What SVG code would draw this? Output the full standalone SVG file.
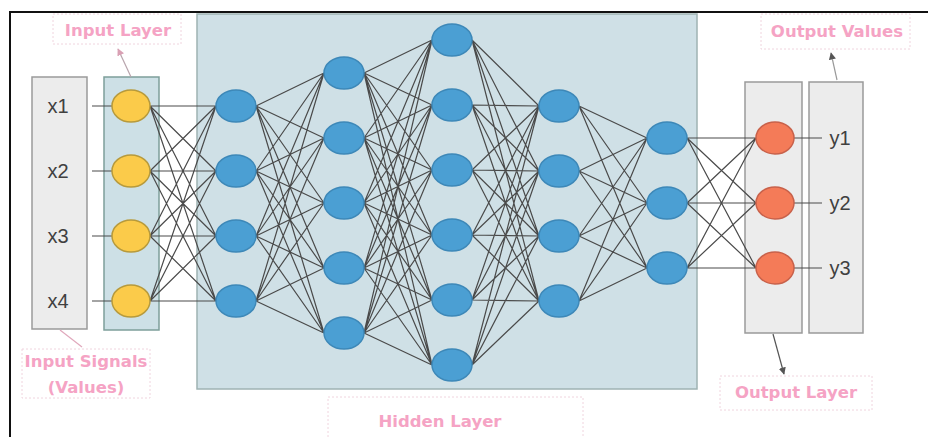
<svg xmlns="http://www.w3.org/2000/svg" width="928" height="437" viewBox="0 0 928 437">
<defs>
<style>
.lbl{font-family:"DejaVu Sans",Verdana,sans-serif;font-weight:bold;font-size:16.5px;fill:#f5a3c4;text-anchor:middle}
.val{font-family:"Liberation Sans",Arial,sans-serif;font-size:20px;fill:#404040;text-anchor:middle;dominant-baseline:central}
.lbox{fill:#fff;stroke:#f0d4de;stroke-width:1;stroke-dasharray:2 2}
.gbox{fill:#ececec;stroke:#9a9a9a;stroke-width:1.5}
.blue{fill:#4b9fd3;stroke:#3d88b8;stroke-width:1.5}
.yel{fill:#fbcb4a;stroke:#b79a3c;stroke-width:1.5}
.red{fill:#f47b58;stroke:#c8614a;stroke-width:1.5}
.c{fill:none;stroke:#4a4a4a;stroke-width:1.2}
</style>
<marker id="ah" viewBox="0 0 10 10" refX="9" refY="5" markerWidth="6" markerHeight="6" orient="auto"><path d="M0 0L10 5L0 10z" fill="#555"/></marker>
<marker id="ahp" viewBox="0 0 10 10" refX="9" refY="5" markerWidth="6" markerHeight="6" orient="auto"><path d="M0 0L10 5L0 10z" fill="#d9a0b4"/></marker>
</defs>
<rect width="928" height="437" fill="#fff"/>
<path d="M10 437V12H928" fill="none" stroke="#111" stroke-width="2"/>

<g id="hidden-layer-box"><rect x="197" y="14" width="500" height="375" fill="#cfe0e6" stroke="#9fb3b3" stroke-width="1.5"/></g>
<g id="input-signals-box"><rect class="gbox" x="32" y="77" width="55" height="252"/></g>
<g id="input-layer-box"><rect x="104" y="77" width="55" height="253" fill="#cde0e6" stroke="#7d9f9a" stroke-width="1.5"/></g>
<g id="output-layer-box"><rect class="gbox" x="745" y="82" width="57" height="251"/></g>
<g id="output-values-box"><rect class="gbox" x="809" y="82" width="54" height="251"/></g>

<g id="connectors">
<path class="c" d="M92 106H112M92 171H112M92 236H112M92 301H112"/>
<path class="c" d="M150 106L216 106M150 106L216 171M150 106L216 236M150 106L216 301M150 171L216 106M150 171L216 171M150 171L216 236M150 171L216 301M150 236L216 106M150 236L216 171M150 236L216 236M150 236L216 301M150 301L216 106M150 301L216 171M150 301L216 236M150 301L216 301"/>
<path class="c" d="M256 106L324 73M256 106L324 138M256 106L324 203M256 106L324 268M256 106L324 333M256 171L324 73M256 171L324 138M256 171L324 203M256 171L324 268M256 171L324 333M256 236L324 73M256 236L324 138M256 236L324 203M256 236L324 268M256 236L324 333M256 301L324 73M256 301L324 138M256 301L324 203M256 301L324 268M256 301L324 333"/>
<path class="c" d="M364 73L432 40M364 73L432 105M364 73L432 170M364 73L432 235M364 73L432 300M364 73L432 365M364 138L432 40M364 138L432 105M364 138L432 170M364 138L432 235M364 138L432 300M364 138L432 365M364 203L432 40M364 203L432 105M364 203L432 170M364 203L432 235M364 203L432 300M364 203L432 365M364 268L432 40M364 268L432 105M364 268L432 170M364 268L432 235M364 268L432 300M364 268L432 365M364 333L432 40M364 333L432 105M364 333L432 170M364 333L432 235M364 333L432 300M364 333L432 365"/>
<path class="c" d="M472 40L539 106M472 40L539 171M472 40L539 236M472 40L539 301M472 105L539 106M472 105L539 171M472 105L539 236M472 105L539 301M472 170L539 106M472 170L539 171M472 170L539 236M472 170L539 301M472 235L539 106M472 235L539 171M472 235L539 236M472 235L539 301M472 300L539 106M472 300L539 171M472 300L539 236M472 300L539 301M472 365L539 106M472 365L539 171M472 365L539 236M472 365L539 301"/>
<path class="c" d="M579 106L647 138M579 106L647 203M579 106L647 268M579 171L647 138M579 171L647 203M579 171L647 268M579 236L647 138M579 236L647 203M579 236L647 268M579 301L647 138M579 301L647 203M579 301L647 268"/>
<path class="c" d="M687 138L756 138M687 138L756 203M687 138L756 268M687 203L756 138M687 203L756 203M687 203L756 268M687 268L756 138M687 268L756 203M687 268L756 268"/>
<path class="c" d="M794 138H822M794 203H822M794 268H822"/>
<path d="M131 77L118 49" fill="none" stroke="#b8a4ac" stroke-width="1.2" marker-end="url(#ahp)"/>
<path d="M60 330L82 347" fill="none" stroke="#e0a8bc" stroke-width="1.2"/>
<path d="M837 80L831 53" fill="none" stroke="#9a9a9a" stroke-width="1.2" marker-end="url(#ah)"/>
<path d="M773 334L784 374" fill="none" stroke="#555" stroke-width="1.2" marker-end="url(#ah)"/>
</g>

<g id="x1"><text class="val" x="58" y="106">x1</text></g>
<g id="x2"><text class="val" x="58" y="171">x2</text></g>
<g id="x3"><text class="val" x="58" y="236">x3</text></g>
<g id="x4"><text class="val" x="58" y="301">x4</text></g>

<g id="in1"><ellipse class="yel" cx="131" cy="106" rx="19" ry="16"/></g>
<g id="in2"><ellipse class="yel" cx="131" cy="171" rx="19" ry="16"/></g>
<g id="in3"><ellipse class="yel" cx="131" cy="236" rx="19" ry="16"/></g>
<g id="in4"><ellipse class="yel" cx="131" cy="301" rx="19" ry="16"/></g>

<g id="h1-1"><ellipse class="blue" cx="236" cy="106" rx="20" ry="16"/></g>
<g id="h1-2"><ellipse class="blue" cx="236" cy="171" rx="20" ry="16"/></g>
<g id="h1-3"><ellipse class="blue" cx="236" cy="236" rx="20" ry="16"/></g>
<g id="h1-4"><ellipse class="blue" cx="236" cy="301" rx="20" ry="16"/></g>

<g id="h2-1"><ellipse class="blue" cx="344" cy="73" rx="20" ry="16"/></g>
<g id="h2-2"><ellipse class="blue" cx="344" cy="138" rx="20" ry="16"/></g>
<g id="h2-3"><ellipse class="blue" cx="344" cy="203" rx="20" ry="16"/></g>
<g id="h2-4"><ellipse class="blue" cx="344" cy="268" rx="20" ry="16"/></g>
<g id="h2-5"><ellipse class="blue" cx="344" cy="333" rx="20" ry="16"/></g>

<g id="h3-1"><ellipse class="blue" cx="452" cy="40" rx="20" ry="16"/></g>
<g id="h3-2"><ellipse class="blue" cx="452" cy="105" rx="20" ry="16"/></g>
<g id="h3-3"><ellipse class="blue" cx="452" cy="170" rx="20" ry="16"/></g>
<g id="h3-4"><ellipse class="blue" cx="452" cy="235" rx="20" ry="16"/></g>
<g id="h3-5"><ellipse class="blue" cx="452" cy="300" rx="20" ry="16"/></g>
<g id="h3-6"><ellipse class="blue" cx="452" cy="365" rx="20" ry="16"/></g>

<g id="h4-1"><ellipse class="blue" cx="559" cy="106" rx="20" ry="16"/></g>
<g id="h4-2"><ellipse class="blue" cx="559" cy="171" rx="20" ry="16"/></g>
<g id="h4-3"><ellipse class="blue" cx="559" cy="236" rx="20" ry="16"/></g>
<g id="h4-4"><ellipse class="blue" cx="559" cy="301" rx="20" ry="16"/></g>

<g id="h5-1"><ellipse class="blue" cx="667" cy="138" rx="20" ry="16"/></g>
<g id="h5-2"><ellipse class="blue" cx="667" cy="203" rx="20" ry="16"/></g>
<g id="h5-3"><ellipse class="blue" cx="667" cy="268" rx="20" ry="16"/></g>

<g id="out1"><ellipse class="red" cx="775" cy="138" rx="19" ry="16"/></g>
<g id="out2"><ellipse class="red" cx="775" cy="203" rx="19" ry="16"/></g>
<g id="out3"><ellipse class="red" cx="775" cy="268" rx="19" ry="16"/></g>

<g id="y1"><text class="val" x="840" y="138">y1</text></g>
<g id="y2"><text class="val" x="840" y="203">y2</text></g>
<g id="y3"><text class="val" x="840" y="268">y3</text></g>

<g id="label-input-layer"><rect class="lbox" x="53" y="14" width="128" height="30"/><text class="lbl" x="118" y="36">Input Layer</text></g>
<g id="label-input-signals"><rect class="lbox" x="22" y="349" width="128" height="49"/><text class="lbl" x="86" y="367">Input Signals</text><text class="lbl" x="86" y="393">(Values)</text></g>
<g id="label-hidden-layer"><rect class="lbox" x="328" y="397" width="255" height="45"/><text class="lbl" x="440" y="427">Hidden Layer</text></g>
<g id="label-output-values"><rect class="lbox" x="761" y="14" width="149" height="35"/><text class="lbl" x="837" y="37">Output Values</text></g>
<g id="label-output-layer"><rect class="lbox" x="720" y="376" width="152" height="34"/><text class="lbl" x="796" y="398">Output Layer</text></g>
</svg>
